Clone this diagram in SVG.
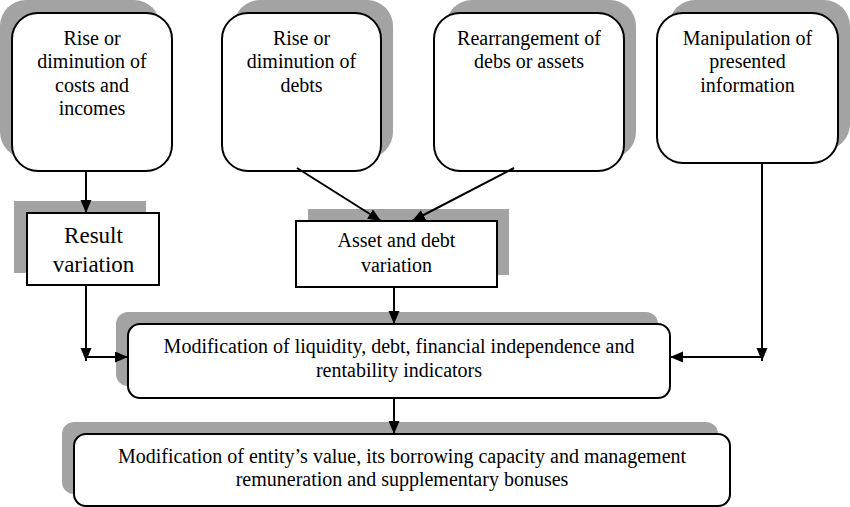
<svg xmlns="http://www.w3.org/2000/svg" width="850" height="507" viewBox="0 0 850 507">
<style>
.sh{fill:#a3a3a3;stroke:none}
.bx{fill:#fff;stroke:#000;stroke-width:2}
text{font-family:'Liberation Serif','Times New Roman',serif;font-size:20px;fill:#000;text-anchor:middle}
.tl{font-size:23px}
.c{stroke:#000;stroke-width:2;fill:none}
</style>
<defs>
<marker id="ah" markerUnits="userSpaceOnUse" markerWidth="14" markerHeight="12" refX="13" refY="5.5" orient="auto">
<path d="M0,0 L13,5.5 L0,11 Z" fill="#000"/>
</marker>
</defs>
<rect width="850" height="507" fill="#fff"/>
<g id="n1">
<rect class="sh" x="0" y="0" width="160" height="158" rx="26"/>
<rect class="bx" x="12" y="13" width="160" height="158" rx="26"/>
<text x="92" y="45">Rise or</text>
<text x="92" y="68">diminution of</text>
<text x="92" y="91.5">costs and</text>
<text x="92" y="115">incomes</text>
</g>
<g id="n2">
<rect class="sh" x="234" y="0" width="159" height="158" rx="26"/>
<rect class="bx" x="222" y="13" width="159" height="158" rx="26"/>
<text x="301.5" y="45">Rise or</text>
<text x="301.5" y="68">diminution of</text>
<text x="301.5" y="91.5">debts</text>
</g>
<g id="n3">
<rect class="sh" x="446" y="0" width="190" height="158" rx="26"/>
<rect class="bx" x="434" y="13" width="190" height="158" rx="26"/>
<text x="529" y="45">Rearrangement of</text>
<text x="529" y="68">debs or assets</text>
</g>
<g id="n4">
<rect class="sh" x="669" y="0" width="181" height="150" rx="26"/>
<rect class="bx" x="657" y="13" width="181" height="150" rx="26"/>
<text x="747.5" y="45">Manipulation of</text>
<text x="747.5" y="68">presented</text>
<text x="747.5" y="91.5">information</text>
</g>
<g id="n5">
<rect class="sh" x="14" y="201" width="132" height="72"/>
<rect class="bx" x="27" y="213" width="132" height="72"/>
<text class="tl" x="93.5" y="243">Result</text>
<text class="tl" x="93.5" y="272">variation</text>
</g>
<g id="n6">
<rect class="sh" x="308" y="209" width="201" height="66"/>
<rect class="bx" x="296" y="221" width="201" height="66"/>
<text x="396.5" y="247">Asset and debt</text>
<text x="396.5" y="272">variation</text>
</g>
<g id="n7">
<rect class="sh" x="116" y="312" width="542" height="74" rx="12"/>
<rect class="bx" x="128" y="324" width="542" height="74" rx="12"/>
<text x="399" y="353">Modification of liquidity, debt, financial independence and</text>
<text x="399" y="377">rentability indicators</text>
</g>
<g id="n8">
<rect class="sh" x="62" y="422" width="656" height="72" rx="12"/>
<rect class="bx" x="74" y="434" width="656" height="72" rx="12"/>
<text x="402" y="463">Modification of entity’s value, its borrowing capacity and management</text>
<text x="402" y="486">remuneration and supplementary bonuses</text>
</g>
<g id="connectors">
<line class="c" x1="86" y1="171" x2="86" y2="213" marker-end="url(#ah)"/>
<line class="c" x1="297" y1="168" x2="381" y2="221" marker-end="url(#ah)"/>
<line class="c" x1="514" y1="168" x2="412" y2="221" marker-end="url(#ah)"/>
<line class="c" x1="86" y1="285" x2="86" y2="361" marker-end="url(#ah)"/>
<line class="c" x1="86" y1="357" x2="128" y2="357" marker-end="url(#ah)"/>
<line class="c" x1="394" y1="287" x2="394" y2="324" marker-end="url(#ah)"/>
<line class="c" x1="762" y1="163" x2="762" y2="361" marker-end="url(#ah)"/>
<line class="c" x1="762" y1="357" x2="670" y2="357" marker-end="url(#ah)"/>
<line class="c" x1="394" y1="398" x2="394" y2="434" marker-end="url(#ah)"/>
</g>
</svg>
